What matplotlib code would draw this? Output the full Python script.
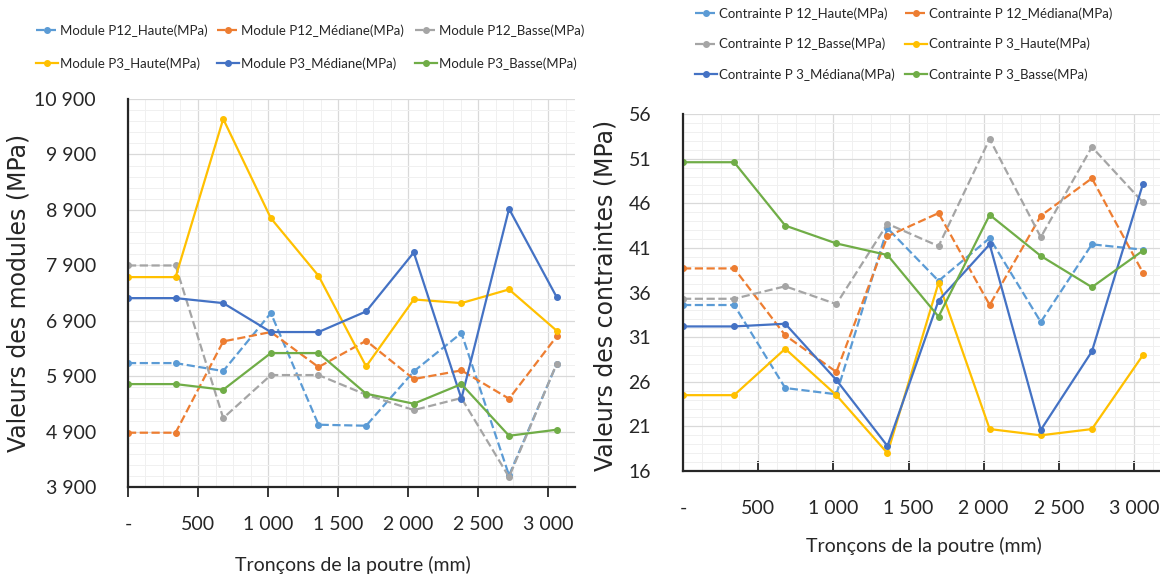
import matplotlib
matplotlib.use("Agg")
import matplotlib.pyplot as plt
from matplotlib.ticker import MultipleLocator, FuncFormatter

plt.rcParams['font.family'] = ['Lato', 'DejaVu Sans']

# positions des tronçons (mm)
x_pos = [0, 340, 680, 1020, 1360, 1700, 2040, 2380, 2720, 3060]

# modules (MPa)
mod_p12_haute = [6136, 6136, 5992, 7038, 5024, 5006, 5986, 6678, 4110, 6120]
mod_p12_mediane = [4880, 4880, 6527, 6696, 6064, 6539, 5848, 6004, 5493, 6617]
mod_p12_basse = [7897, 7897, 5144, 5920, 5920, 5565, 5288, 5505, 4080, 6124]
mod_p3_haute = [7687, 7687, 10540, 8750, 7711, 6076, 7284, 7218, 7465, 6720]
mod_p3_mediane = [7308, 7308, 7218, 6696, 6696, 7068, 8131, 5493, 8918, 7326]
mod_p3_basse = [5757, 5757, 5655, 6317, 6317, 5583, 5403, 5757, 4825, 4934]
mod_ticks = [3900, 4900, 5900, 6900, 7900, 8900, 9900, 10900]

# contraintes (MPa)
ctr_p12_haute = [34.6, 34.6, 25.3, 24.6, 43.2, 37.3, 42.1, 32.7, 41.4, 40.8]
ctr_p12_mediana = [38.7, 38.7, 31.2, 27.1, 42.3, 44.9, 34.6, 44.6, 48.8, 38.2]
ctr_p12_basse = [35.3, 35.3, 36.7, 34.7, 43.7, 41.2, 53.2, 42.2, 52.3, 46.1]
ctr_p3_haute = [24.5, 24.5, 29.7, 24.5, 18.0, 37.1, 20.7, 20.0, 20.7, 29.0]
ctr_p3_mediana = [32.2, 32.2, 32.5, 26.2, 18.8, 35.1, 41.4, 20.6, 29.4, 48.2]
ctr_p3_basse = [50.6, 50.6, 43.5, 41.5, 40.2, 33.3, 44.7, 40.1, 36.6, 40.7]
ctr_ticks = [16, 21, 26, 31, 36, 41, 46, 51, 56]

colors = ["#5B9BD5", "#ED7D31", "#A5A5A5", "#FFC000", "#4472C4", "#70AD47"]
styles = ["--", "--", "--", "-", "-", "-"]

mod_series = [mod_p12_haute, mod_p12_mediane, mod_p12_basse,
              mod_p3_haute, mod_p3_mediane, mod_p3_basse]
mod_labels = ["Module P12_Haute(MPa)", "Module P12_Médiane(MPa)", "Module P12_Basse(MPa)",
              "Module P3_Haute(MPa)", "Module P3_Médiane(MPa)", "Module P3_Basse(MPa)"]
ctr_series = [ctr_p12_haute, ctr_p12_mediana, ctr_p12_basse,
              ctr_p3_haute, ctr_p3_mediana, ctr_p3_basse]
ctr_labels = ["Contrainte P 12_Haute(MPa)", "Contrainte P 12_Médiana(MPa)",
              "Contrainte P 12_Basse(MPa)", "Contrainte P 3_Haute(MPa)",
              "Contrainte P 3_Médiana(MPa)", "Contrainte P 3_Basse(MPa)"]

TXT = "#262626"


def fmt_space(v, pos):
    if abs(v) < 1e-9:
        return "-"
    return f"{v:,.0f}".replace(",", " ")


def style_axes(ax, xdir, xpad):
    ax.grid(which="major", color="#D9D9D9", lw=0.9)
    ax.grid(which="minor", color="#F0F0F0", lw=0.7)
    ax.set_axisbelow(True)
    for s in ["top", "right"]:
        ax.spines[s].set_visible(False)
    for s in ["left", "bottom"]:
        ax.spines[s].set_color(TXT)
        ax.spines[s].set_linewidth(1.6)
    ax.xaxis.set_major_locator(MultipleLocator(500))
    ax.xaxis.set_minor_locator(MultipleLocator(125))
    ax.xaxis.set_major_formatter(FuncFormatter(fmt_space))
    ax.yaxis.set_major_formatter(FuncFormatter(fmt_space))
    ax.tick_params(which="major", labelsize=14, labelcolor=TXT)
    ax.tick_params(which="minor", length=0)
    ax.tick_params(axis="x", which="major", direction=xdir, length=7, width=1.3,
                   color=TXT, pad=xpad)
    ax.tick_params(axis="y", which="major", length=0, pad=23)


def add_legend(handles, labels, cols, y_top, spacing):
    # une légende par colonne pour coller aux positions de l'original
    for (x0, idx) in cols:
        fig.legend([handles[i] for i in idx], [labels[i] for i in idx],
                   loc="upper left", bbox_to_anchor=(x0, y_top), frameon=False,
                   borderpad=0, borderaxespad=0, fontsize=9.5, handlelength=1.65,
                   handletextpad=0.2, labelspacing=spacing, labelcolor=TXT)


fig = plt.figure(figsize=(11.6, 5.8), dpi=100)

# ---- gauche : modules
ax1 = fig.add_axes([0.1103, 0.1603, 0.3853, 0.669])
h1 = []
for ys, c, ls, lab in zip(mod_series, colors, styles, mod_labels):
    ln, = ax1.plot(x_pos, ys, ls=ls, color=c, lw=1.6, marker="o", ms=4, label=lab)
    h1.append(ln)
ax1.set_xlim(0, 3190)
ax1.set_ylim(3900, 10900)
ax1.set_yticks(mod_ticks)
ax1.yaxis.set_minor_locator(MultipleLocator(200, offset=100))
style_axes(ax1, "out", 14)
ax1.get_xticklabels()[0].set_ha("right")
ax1.set_ylabel("Valeurs des modules (MPa)", fontsize=17, family="DejaVu Sans", color=TXT)
ax1.yaxis.set_label_coords(0.0267, 0.4957, transform=fig.transFigure)
ax1.set_xlabel("Tronçons de la poutre (mm)", fontsize=14, color=TXT)
ax1.xaxis.set_label_coords(0.3043, 0.041, transform=fig.transFigure)
add_legend(h1, mod_labels, [(36 / 1160, [0, 3]), (217 / 1160, [1, 4]), (415 / 1160, [2, 5])],
           0.9586, 1.58)

# ---- droite : contraintes
ax2 = fig.add_axes([0.5888, 0.1879, 0.4112, 0.6155])
h2 = []
for ys, c, ls, lab in zip(ctr_series, colors, styles, ctr_labels):
    ln, = ax2.plot(x_pos, ys, ls=ls, color=c, lw=1.6, marker="o", ms=4, label=lab)
    h2.append(ln)
ax2.set_xlim(0, 3173)
ax2.set_ylim(16, 56)
ax2.set_yticks(ctr_ticks)
ax2.yaxis.set_minor_locator(MultipleLocator(1))
style_axes(ax2, "in", 21)
ax2.get_xticklabels()[0].set_ha("right")
ax2.set_ylabel("Valeurs des contraintes (MPa)", fontsize=17, family="DejaVu Sans", color=TXT)
ax2.yaxis.set_label_coords(0.532, 0.491, transform=fig.transFigure)
ax2.set_xlabel("Tronçons de la poutre (mm)", fontsize=14, color=TXT)
ax2.xaxis.set_label_coords(0.7966, 0.074, transform=fig.transFigure)
add_legend(h2, ctr_labels, [(695 / 1160, [0, 2, 4]), (905 / 1160, [1, 3, 5])],
           0.987, 1.35)

fig.savefig("out.png", dpi=100)
